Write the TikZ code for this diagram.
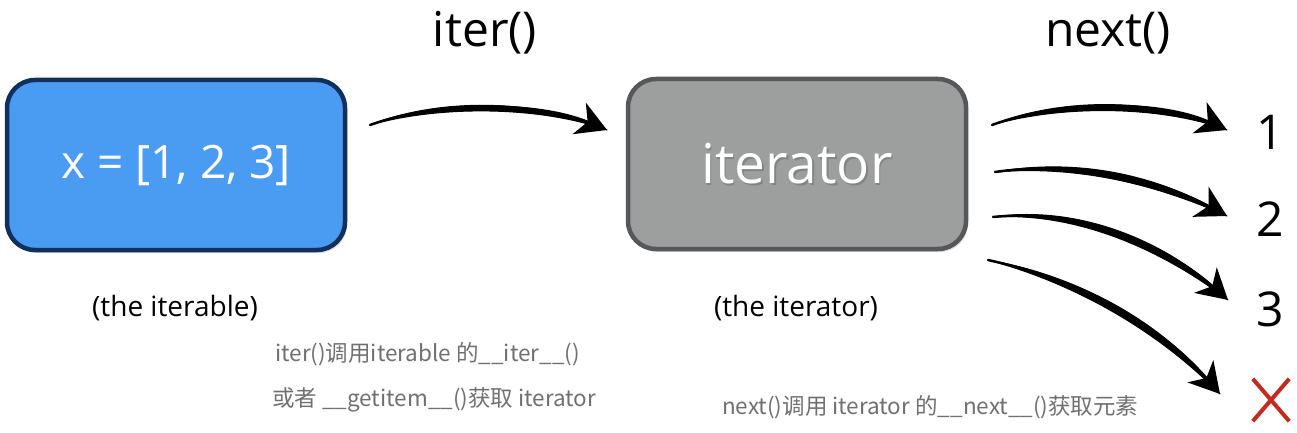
\documentclass[tikz,border=0pt]{standalone}
\usepackage{fontspec}
\setmainfont{Open Sans}
\newfontfamily\cjk{Noto Sans CJK SC}
\usetikzlibrary{arrows.meta,shadows}
\definecolor{boxblue}{HTML}{4A9BF2}
\definecolor{navy}{HTML}{12305E}
\definecolor{boxgray}{HTML}{9D9E9E}
\definecolor{edgegray}{HTML}{55575A}
\definecolor{notegray}{HTML}{707070}
\definecolor{crossred}{HTML}{C42A1E}
\begin{document}
\begin{tikzpicture}[x=1pt,y=-1pt,
  box/.style={rounded corners=28pt, line width=4.5pt, minimum width=338pt, minimum height=170pt,
    text=white, font=\fontsize{46}{50}\selectfont, inner sep=0pt,
    drop shadow={opacity=0.25, shadow xshift=2pt, shadow yshift=-3pt}},
  brush/.style={line width=2.5pt, line cap=round, -{Stealth[length=30pt,width=34pt,inset=9pt]}},
  brushfill/.style={fill=black, draw=black, line width=1pt, line join=round},
  lbl/.style={font=\fontsize{48}{52}\selectfont, inner sep=0pt},
  capt/.style={font=\fontsize{28}{32}\selectfont, inner sep=0pt},
  note/.style={font=\cjk\fontsize{22.5}{26}\selectfont, text=notegray, inner sep=0pt, anchor=west}]
\useasboundingbox (0,0) rectangle (1297,433);
\fill[white] (0,0) rectangle (1297,433);
% boxes
\node[box, fill=boxblue, draw=navy] (itbl) at (176,165) {x = [1, 2, 3]};
\node[box, fill=boxgray, draw=edgegray, font=\fontsize{55}{60}\selectfont] (itor) at (797,164) {};
\node[text=black!55, opacity=0.6, font=\fontsize{55}{60}\selectfont, inner sep=0pt] (itorsh) at (798.5,165.5) {iterator};
\node[text=white, font=\fontsize{55}{60}\selectfont, inner sep=0pt] (itortxt) at (itor.center) {iterator};
% labels
\node[lbl] (iterlbl) at (485,33) {iter()};
\node[lbl] (nextlbl) at (1108,33) {next()};
\node[capt] (c1) at (175,308) {(the iterable)};
\node[capt] (c2) at (796,308) {(the iterator)};
\node[lbl] (n1) at (1270,132) {1};
\node[lbl] (n2) at (1270,219) {2};
\node[lbl] (n3) at (1270,309) {3};
\node[minimum width=36pt, minimum height=42pt, inner sep=0pt] (nx) at (1271,400) {};
\draw[crossred, line width=4pt] (nx.north west) -- (nx.south east) (nx.north east) -- (nx.south west);
% arrows
\coordinate (s0) at (370,125); \coordinate (e0) at (607,130);
\coordinate (s1) at (992,125); \coordinate (e1) at (1227,130);
\coordinate (s2) at (995,172); \coordinate (e2) at (1227,216);
\coordinate (s3) at (993,217); \coordinate (e3) at (1228,300);
\coordinate (s4) at (988,260); \coordinate (e4) at (1220,394);
\filldraw[brushfill] (s0) .. controls (440,97) and (540,99) .. (e0) .. controls (540,106) and (440,105) .. (s0) -- cycle;
\draw[brush] (s0) .. controls (440,100) and (540,102) .. (e0);
\filldraw[brushfill] (s1) .. controls (1060,97) and (1160,97) .. (e1) .. controls (1160,105) and (1060,105) .. (s1) -- cycle;
\draw[brush] (s1) .. controls (1060,100) and (1160,100) .. (e1);
\filldraw[brushfill] (s2) .. controls (1080,157) and (1162,176) .. (e2) .. controls (1157,185) and (1080,165) .. (s2) -- cycle;
\draw[brush] (s2) .. controls (1080,160) and (1160,180) .. (e2);
\filldraw[brushfill] (s3) .. controls (1080,204) and (1172,243) .. (e3) .. controls (1165,252) and (1080,212) .. (s3) -- cycle;
\draw[brush] (s3) .. controls (1080,208) and (1168,247) .. (e3);
\filldraw[brushfill] (s4) .. controls (1070,274) and (1162,318) .. (e4) .. controls (1154,327) and (1070,282) .. (s4) -- cycle;
\draw[brush] (s4) .. controls (1070,278) and (1158,322) .. (e4);
% notes
\node[note] (t1) at (275,354) {iter()调用iterable 的\_\_iter\_\_()};
\node[note] (t2) at (272,400) {或者 \_\_getitem\_\_()获取 iterator};
\node[note] (t3) at (722,407) {next()调用 iterator 的\_\_next\_\_()获取元素};
\end{tikzpicture}
\end{document}
